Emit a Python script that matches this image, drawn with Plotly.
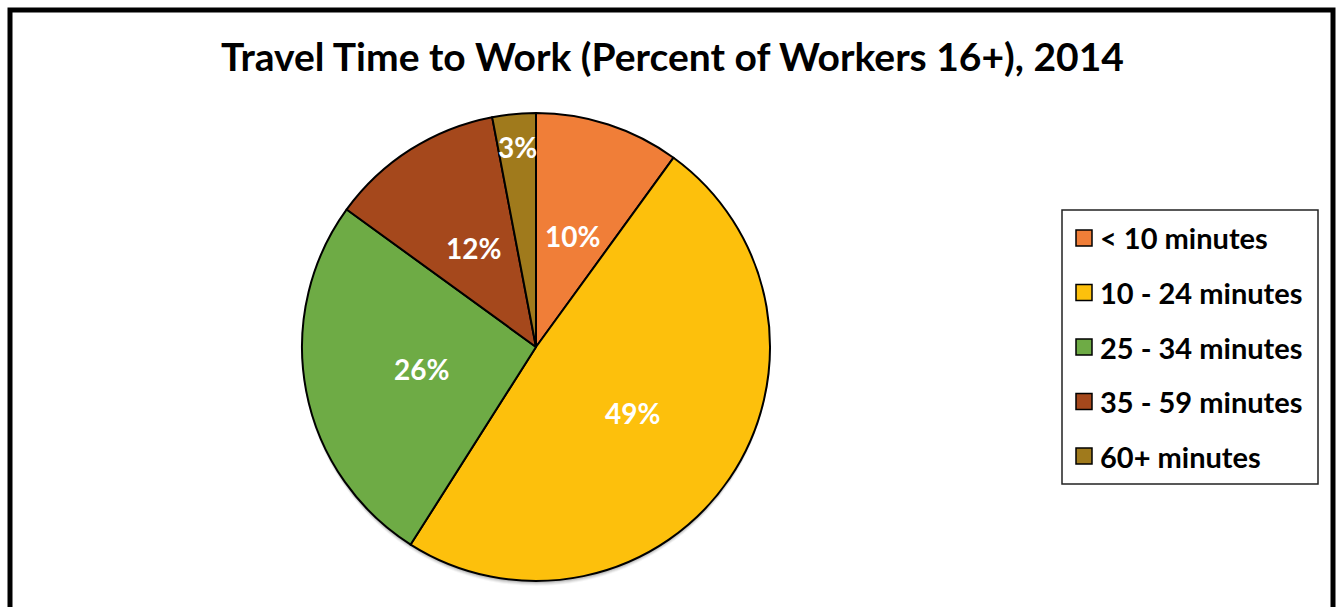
import math
import plotly.graph_objects as go

# Data
categories = ["< 10 minutes", "10 - 24 minutes", "25 - 34 minutes", "35 - 59 minutes", "60+ minutes"]
shares = [10, 49, 26, 12, 3]
label_text = ["10%", "49%", "26%", "12%", "3%"]
slice_colors = ["#F07E38", "#FDC00C", "#6EAB45", "#A5481C", "#A07A1C"]

W, H = 1340, 607
CX, CY, R = 536, 347, 234   # pie centre / radius in pixels (y from top)

def px_x(x):
    return x / W

def px_y(y):
    return 1 - y / H

fig = go.Figure(go.Pie(
    labels=categories,
    values=shares,
    sort=False,
    direction="clockwise",
    rotation=0,
    marker=dict(colors=slice_colors, line=dict(color="#000000", width=2)),
    textinfo="none",
    hoverinfo="label+percent",
    showlegend=False,
    domain=dict(x=[px_x(CX - R), px_x(CX + R)], y=[px_y(CY + R), px_y(CY - R)]),
))

shapes = []
annotations = []

# soft drop shadow beneath the pie
for i, op in enumerate([0.10, 0.08, 0.06, 0.04]):
    off = 2 + i
    shapes.append(dict(type="circle", xref="paper", yref="paper", layer="below",
                       x0=px_x(CX - R), x1=px_x(CX + R),
                       y0=px_y(CY + R + off), y1=px_y(CY - R + off),
                       fillcolor=f"rgba(0,0,0,{op})", line=dict(width=0)))

# outer frame
shapes.append(dict(type="path", xref="paper", yref="paper",
                   path=f"M {px_x(10)} {px_y(620)} L {px_x(10)} {px_y(10)} L {px_x(1333)} {px_y(10)} L {px_x(1333)} {px_y(620)}",
                   line=dict(color="#000000", width=5)))

# slice value labels, placed at each slice's mid-angle
total = sum(shares)
cum = 0
for v, t in zip(shares, label_text):
    mid = (cum + v / 2) / total * 2 * math.pi
    cum += v
    frac = 0.5 if v / total > 0.05 else 0.86
    x = CX + R * frac * math.sin(mid)
    y = CY - R * frac * math.cos(mid)
    annotations.append(dict(x=px_x(x), y=px_y(y), xref="paper", yref="paper",
                            xanchor="center", yanchor="middle",
                            text=f"<b>{t}</b>", showarrow=False,
                            font=dict(family="Lato", size=28, color="#FFFFFF")))

# legend box
LX0, LY0, LX1, LY1 = 1062, 210, 1318, 484
shapes.append(dict(type="rect", xref="paper", yref="paper",
                   x0=px_x(LX0), x1=px_x(LX1), y0=px_y(LY1), y1=px_y(LY0),
                   line=dict(color="#222222", width=1.5), fillcolor="#FFFFFF"))
row_y = [238, 292.5, 347, 401.5, 456]
for cat, col, yy in zip(categories, slice_colors, row_y):
    shapes.append(dict(type="rect", xref="paper", yref="paper",
                       x0=px_x(1076), x1=px_x(1092), y0=px_y(yy + 8), y1=px_y(yy - 8),
                       fillcolor=col, line=dict(color="#000000", width=1.5)))
    annotations.append(dict(x=px_x(1098), y=px_y(yy), xref="paper", yref="paper",
                            xanchor="left", yanchor="middle", text=f"<b>{cat}</b>",
                            showarrow=False,
                            font=dict(family="Lato", size=29, color="#000000")))

# title
annotations.append(dict(x=px_x(672), y=px_y(56), xref="paper", yref="paper",
                        xanchor="center", yanchor="middle",
                        text="<b>Travel Time to Work (Percent of Workers 16+), 2014</b>",
                        showarrow=False,
                        font=dict(family="Lato", size=39, color="#000000")))

fig.update_layout(
    width=W, height=H,
    margin=dict(l=0, r=0, t=0, b=0),
    paper_bgcolor="#FFFFFF",
    plot_bgcolor="#FFFFFF",
    shapes=shapes,
    annotations=annotations,
)

fig.write_html("out.html", config={"displayModeBar": False})
